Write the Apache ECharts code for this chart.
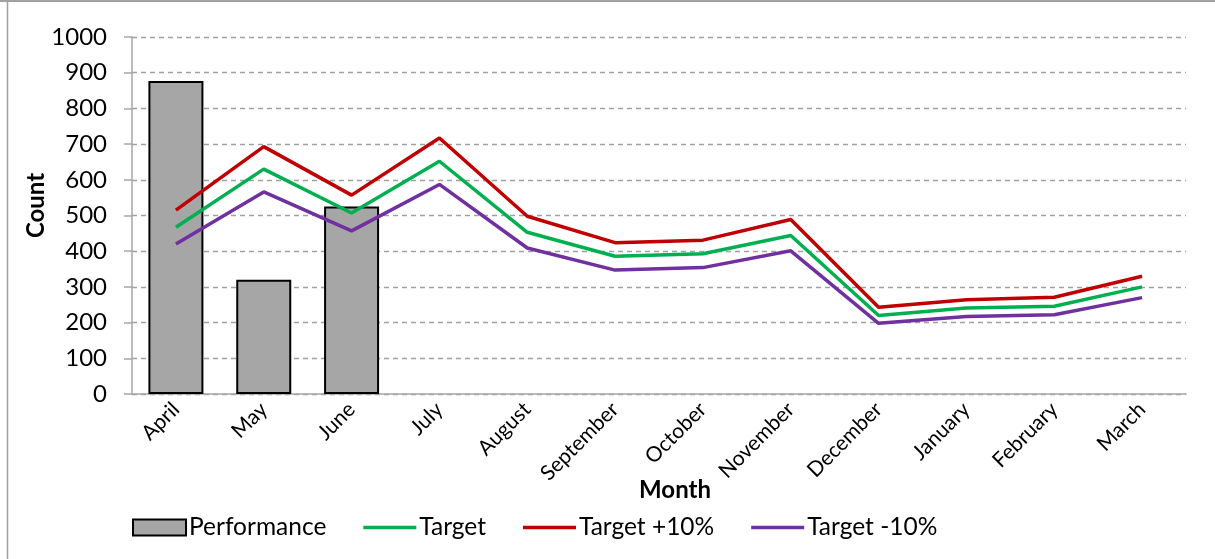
<!DOCTYPE html>
<html>
<head>
<meta charset="utf-8">
<script src="https://cdn.jsdelivr.net/npm/echarts@6/dist/echarts.min.js"></script>
<style>
  html, body { margin: 0; padding: 0; background: #fff; }
  #chart { width: 1215px; height: 559px; }
</style>
</head>
<body>
<div id="chart"></div>
<script>
const months = ['April', 'May', 'June', 'July', 'August', 'September', 'October', 'November', 'December', 'January', 'February', 'March']
const performance = [877, 320, 525, null, null, null, null, null, null, null, null, null]
const target = [467, 630, 507, 652, 453, 386, 393, 444, 220, 241, 246, 300]
const targetPlus = [515, 693, 557, 717, 498, 424, 431, 489, 243, 264, 271, 330]
const targetMinus = [420, 566, 457, 587, 409, 347, 354, 401, 198, 217, 222, 270]
const yTicks = { min: 0, max: 1000, interval: 100 }

const font = 'Lato'
const lineIcon = 'path://M0,0 L55,0 L55,3.5 L0,3.5 Z'

const lineSeries = (name, data, color) => ({
  name: name,
  type: 'line',
  data: data,
  symbol: 'none',
  lineStyle: { color: color, width: 3.5 },
  itemStyle: { color: color },
  z: 3
})

let chartDom = echarts.init(document.getElementById('chart'))
chartDom.setOption({
  animation: false,
  textStyle: { fontFamily: font, color: '#000' },
  graphic: [
    { type: 'line', shape: { x1: 0, y1: 1, x2: 1215, y2: 1 }, style: { stroke: '#a0a0a0', lineWidth: 2 } },
    { type: 'line', shape: { x1: 7.5, y1: 0, x2: 7.5, y2: 559 }, style: { stroke: '#a0a0a0', lineWidth: 1.5 } }
  ],
  grid: { left: 132, right: 29, top: 37, bottom: 165 },
  legend: {
    left: 132,
    top: 515,
    padding: 0,
    itemWidth: 53,
    itemHeight: 16,
    itemGap: 37,
    textStyle: { fontFamily: font, fontSize: 24.5, color: '#000', padding: [0, 0, 0, -2] },
    data: [
      { name: 'Performance', icon: 'rect' },
      { name: 'Target', icon: lineIcon },
      { name: 'Target +10%', icon: lineIcon },
      { name: 'Target -10%', icon: lineIcon }
    ]
  },
  xAxis: {
    type: 'category',
    data: months,
    name: 'Month',
    nameLocation: 'middle',
    nameGap: 84,
    nameMoveOverlap: false,
    nameTextStyle: { fontFamily: font, fontSize: 24, fontWeight: 'bold', color: '#000', padding: [0, 0, 0, 32] },
    axisLine: { lineStyle: { color: '#a6a6a6', width: 1.5 } },
    axisTick: { length: 6, lineStyle: { color: '#a6a6a6', width: 1.5 } },
    axisLabel: { rotate: 45, fontFamily: font, fontSize: 21, color: '#000', margin: 12, interval: 0 }
  },
  yAxis: {
    type: 'value',
    min: yTicks.min,
    max: yTicks.max,
    interval: yTicks.interval,
    name: 'Count',
    nameLocation: 'middle',
    nameGap: 84,
    nameMoveOverlap: false,
    nameTextStyle: { fontFamily: font, fontSize: 24, fontWeight: 'bold', color: '#000', padding: [0, 0, 0, 20] },
    axisLine: { show: true, lineStyle: { color: '#a6a6a6', width: 1.5 } },
    axisTick: { show: true, length: 8, lineStyle: { color: '#a6a6a6', width: 1.5 } },
    axisLabel: { fontFamily: font, fontSize: 24, color: '#000', margin: 25, formatter: v => String(v) },
    splitLine: { lineStyle: { color: '#a0a0a0', width: 1.3, type: [5, 4] } }
  },
  series: [
    {
      name: 'Performance',
      type: 'bar',
      data: performance,
      barWidth: 55,
      itemStyle: { color: '#a6a6a6', borderColor: '#000', borderWidth: 2 },
      z: 2
    },
    lineSeries('Target', target, '#00b050'),
    lineSeries('Target +10%', targetPlus, '#c00000'),
    lineSeries('Target -10%', targetMinus, '#7030a0')
  ]
})
</script>
</body>
</html>
